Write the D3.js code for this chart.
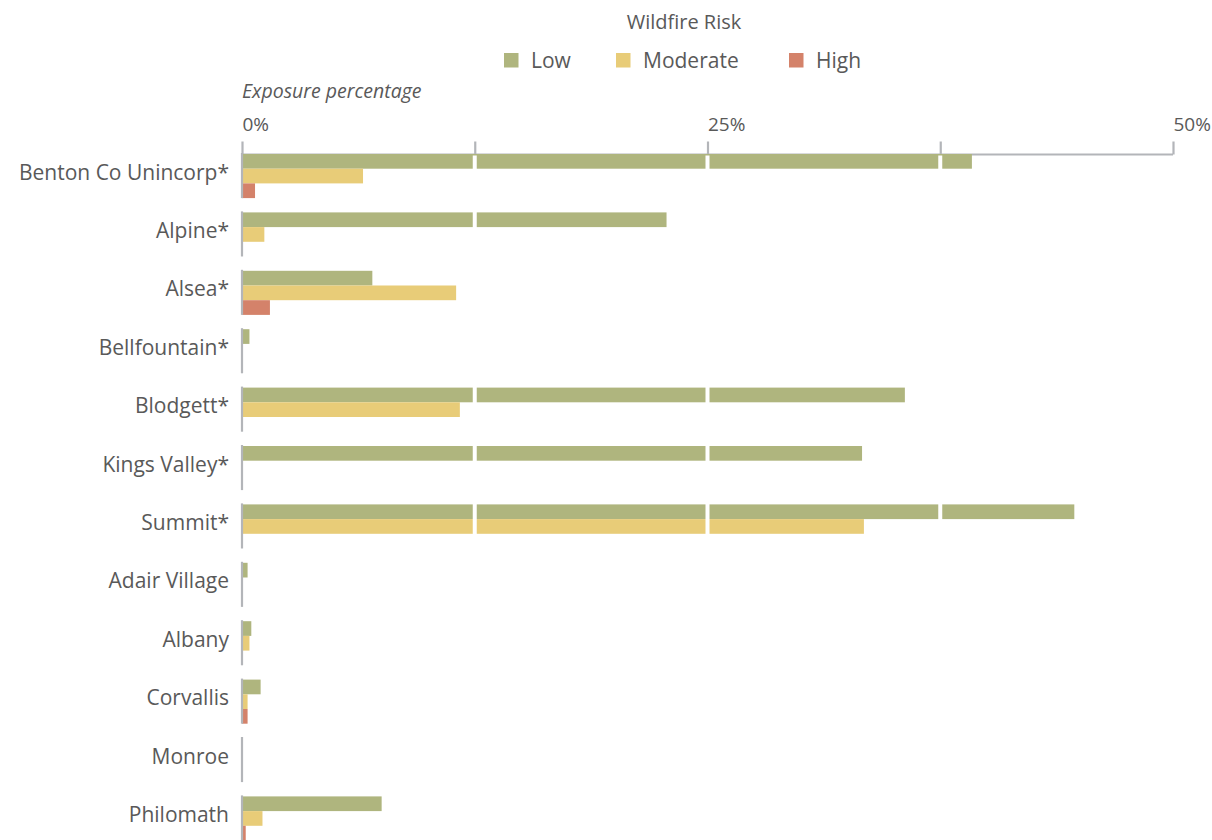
<!DOCTYPE html>
<html>
<head>
<meta charset="utf-8">
<script src="https://cdn.jsdelivr.net/npm/d3@7"></script>
<style>
  html, body { margin: 0; padding: 0; background: #fff; }
  svg { display: block; font-family: "Open Sans", "Noto Sans", sans-serif; }
</style>
</head>
<body>
<svg id="chart" width="1212" height="840"></svg>
<script>
// Wildfire risk exposure by community (percent of area)
const categories = [
  "Benton Co Unincorp*", "Alpine*", "Alsea*", "Bellfountain*", "Blodgett*",
  "Kings Valley*", "Summit*", "Adair Village", "Albany", "Corvallis",
  "Monroe", "Philomath"
];
const lowRisk      = [39.2, 22.8, 7.0, 0.4, 35.6, 33.3, 44.7, 0.3, 0.5, 1.0, 0, 7.5];
const moderateRisk = [6.5, 1.2, 11.5, 0, 11.7, 0, 33.4, 0, 0.4, 0.3, 0, 1.1];
const highRisk     = [0.7, 0, 1.5, 0, 0, 0, 0, 0, 0, 0.3, 0, 0.2];
const seriesNames  = ["Low", "Moderate", "High"];
const seriesColors = ["#afb57e", "#e8cc78", "#d4826a"];
const tickValues   = [0, 12.5, 25, 37.5, 50];
const tickLabels   = ["0%", "", "25%", "", "50%"];

const seriesValues = [lowRisk, moderateRisk, highRisk];
const rows = categories.map((c, i) => ({
  name: c,
  values: seriesNames.map((s, j) => ({ series: s, value: seriesValues[j][i] }))
}));

const svg = d3.select("#chart");
const textColor = "#595959";
const axisGrey = "#b3b5b9";

const x = d3.scaleLinear().domain([0, 50]).range([242, 1173]);
const step = 58.4, padIn = 0.245;
const y = d3.scaleBand()
  .domain(categories)
  .range([154, 154 + step * (categories.length - padIn)])
  .paddingInner(padIn)
  .paddingOuter(0);
const ySub = d3.scaleBand().domain(seriesNames).range([0, y.bandwidth()]).padding(0);
const color = d3.scaleOrdinal().domain(seriesNames).range(seriesColors);

// Legend
svg.append("text")
  .attr("x", 684).attr("y", 29)
  .attr("text-anchor", "middle")
  .attr("font-size", 20)
  .attr("fill", textColor)
  .text("Wildfire Risk");

const legendX = [504, 616, 789];
const legend = svg.append("g").selectAll("g")
  .data(seriesNames).join("g")
  .attr("transform", (d, i) => `translate(${legendX[i]},53)`);
legend.append("rect").attr("width", 14.5).attr("height", 14.5).attr("fill", d => color(d));
legend.append("text")
  .attr("x", 27).attr("y", 15)
  .attr("font-size", 21)
  .attr("fill", textColor)
  .text(d => d);

// Axis title
svg.append("text")
  .attr("x", 242).attr("y", 98)
  .attr("font-size", 19.5)
  .attr("font-style", "italic")
  .attr("fill", textColor)
  .text("Exposure percentage");

// Top axis
const axis = d3.axisTop(x)
  .tickValues(tickValues)
  .tickFormat((d, i) => tickLabels[i])
  .tickSize(13)
  .tickPadding(11);
const gAxis = svg.append("g").attr("transform", "translate(0,154.5)").call(axis);
gAxis.select(".domain").attr("stroke", axisGrey).attr("stroke-width", 2)
  .attr("d", `M${x(0)},0H${x(50)}`);
gAxis.selectAll(".tick line").attr("stroke", axisGrey).attr("stroke-width", 2.2);
gAxis.selectAll(".tick text")
  .attr("text-anchor", "start")
  .attr("font-size", 19)
  .attr("font-family", "'Open Sans', sans-serif")
  .attr("fill", textColor);

// Bars
const groups = svg.append("g").selectAll("g")
  .data(rows).join("g")
  .attr("transform", d => `translate(0,${y(d.name)})`);

groups.selectAll("rect")
  .data(d => d.values).join("rect")
  .attr("x", x(0))
  .attr("y", d => ySub(d.series))
  .attr("height", ySub.bandwidth())
  .attr("width", d => x(d.value) - x(0))
  .attr("fill", d => color(d.series));

// White gridlines cutting through the bars
const grid = svg.append("g");
[12.5, 25, 37.5].forEach(v => {
  grid.append("line")
    .attr("x1", x(v)).attr("x2", x(v))
    .attr("y1", 155.5).attr("y2", 840)
    .attr("stroke", "#ffffff").attr("stroke-width", 4);
});

// Per-row zero baselines
groups.append("line")
  .attr("x1", x(0)).attr("x2", x(0))
  .attr("y1", -1).attr("y2", y.bandwidth())
  .attr("stroke", axisGrey).attr("stroke-width", 2.2);

// Category labels
groups.append("text")
  .attr("x", 229)
  .attr("y", y.bandwidth() / 2 - 4)
  .attr("dy", "0.36em")
  .attr("text-anchor", "end")
  .attr("font-size", 21)
  .attr("fill", textColor)
  .text(d => d.name);
</script>
</body>
</html>
